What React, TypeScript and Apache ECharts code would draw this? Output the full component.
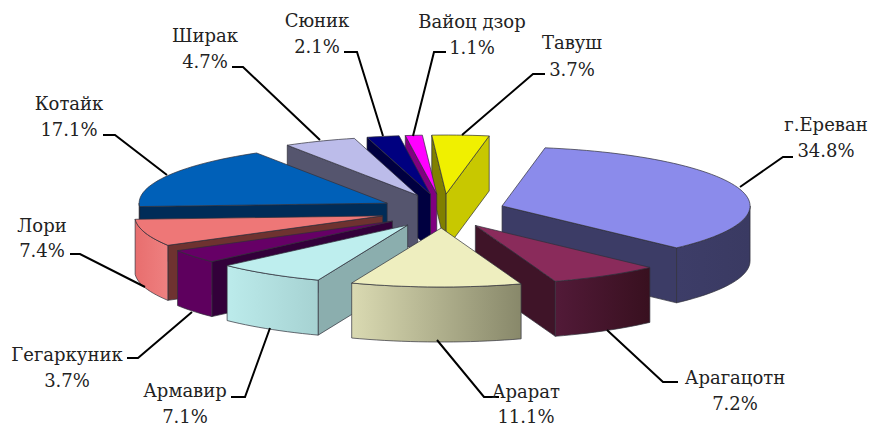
import React, { useEffect, useRef } from "react";
import * as echarts from "echarts";

const regions = ["г.Ереван", "Арагацотн", "Арарат", "Армавир", "Гегаркуник", "Лори", "Котайк", "Ширак", "Сюник", "Вайоц дзор", "Тавуш"];
const shares = [34.8, 7.2, 11.1, 7.1, 3.7, 7.4, 17.1, 4.7, 2.1, 1.1, 3.7];

const topColors = ["#8B8BEB", "#8A2B5B", "#EEEEBF", "#BEEEEE", "#660066", "#EE7777", "#0060B8", "#BCBCEA", "#000080", "#FF00FF", "#F0F000"];
const wallColors = [
  ["#3D3D68", "#3A3A62"], ["#521A38", "#38101F"], ["#DADAB2", "#88886A"], ["#BCEBEB", "#A6D2D2"],
  ["#5E005E", "#5E005E"], ["#E86E6E", "#EE8080"], ["#002C58", "#002C58"], ["#55556E", "#55556E"],
  ["#000040", "#000040"], ["#800080", "#800080"], ["#808000", "#808000"],
];
const startFaceColors = ["#3C3C66", "#3F1428", "#BBBB98", "#8BAEAE", "#33003A", "#6E3230", "#002C58", "#55556E", "#000040", "#800080", "#808000"];
const endFaceColors = ["#3C3C66", "#3F1428", "#BBBB98", "#8BAEAE", "#33003A", "#6E3230", "#002C58", "#55556E", "#000040", "#800080", "#C8C800"];

const labelPos = [[826, 124, 150], [735, 377, 403], [526, 391, 416], [185, 390, 416], [67, 354, 380], [42, 225, 250], [69, 103, 129], [205, 35, 61], [317, 20, 46], [472, 21, 47], [572, 42, 69]];
const leaders = [
  [[740, 187], [783, 157], [793, 157]],
  [[607, 330], [663, 382], [678, 382]],
  [[437, 340], [484, 397], [499, 397]],
  [[270, 328], [245, 397], [231, 397]],
  [[192, 312], [138, 358], [127, 358]],
  [[145, 287], [80, 254], [70, 254]],
  [[167, 175], [115, 135], [103, 135]],
  [[320, 140], [243, 67], [232, 67]],
  [[383, 136], [357, 52], [344, 52]],
  [[413, 136], [434, 52], [446, 52]],
  [[462, 135], [533, 74], [545, 74]],
];

const START_DEG = 10;
const CX = 442.5, CY = 211, RX = 248, RY = 59, EX = 62.4, EY = 17, DEPTH = 55;
const EDGE = "#2f2f3a";

const total = shares.reduce((s, v) => s + v, 0);
const rad = (d: number) => (d * Math.PI) / 180;
const spans = shares.reduce<[number, number][]>((acc, v) => {
  const from = acc.length ? acc[acc.length - 1][1] : START_DEG;
  acc.push([from, from + (v / total) * 360]);
  return acc;
}, []);
const paintOrder = shares
  .map((_, i) => i)
  .sort((p, q) => {
    const c = (i: number) => Math.cos(rad((spans[i][0] + spans[i][1]) / 2));
    return c(q) - c(p);
  });

function renderSlice(params: any, api: any) {
  const i = api.value(1);
  const [a0, a1] = spans[i];
  const mid = rad((a0 + a1) / 2);
  const ax = CX + EX * Math.sin(mid);
  const ay = CY - EY * Math.cos(mid);
  const pt = (deg: number, dz = 0) => [ax + RX * Math.sin(rad(deg)), ay - RY * Math.cos(rad(deg)) + dz];
  const arc = (from: number, to: number, dz = 0) => {
    const n = Math.max(2, Math.ceil(Math.abs(to - from) / 2));
    const out: number[][] = [];
    for (let k = 0; k <= n; k++) out.push(pt(from + ((to - from) * k) / n, dz));
    return out;
  };
  const poly = (points: number[][], fill: any) => ({
    type: "polygon",
    shape: { points },
    style: { fill, stroke: EDGE, lineWidth: 0.7 },
    silent: true,
  });
  const norm = (d: number) => ((d % 360) + 360) % 360;
  const children: any[] = [];
  const n0 = norm(a0), n1 = norm(a1);
  if (n0 > 180) children.push(poly([[ax, ay], pt(a0), pt(a0, DEPTH), [ax, ay + DEPTH]], startFaceColors[i]));
  if (n1 < 180) children.push(poly([[ax, ay], pt(a1), pt(a1, DEPTH), [ax, ay + DEPTH]], endFaceColors[i]));
  const w0 = Math.max(a0, 90), w1 = Math.min(a1, 270);
  if (w1 > w0) {
    const wall = [...arc(w0, w1), ...arc(w1, w0, DEPTH)];
    const [c0, c1] = wallColors[i];
    children.push(
      poly(wall, new echarts.graphic.LinearGradient(0, 0, 1, 0, [
        { offset: 0, color: c0 },
        { offset: 1, color: c1 },
      ]))
    );
  }
  children.push(poly([[ax, ay], ...arc(a0, a1)], topColors[i]));
  return { type: "group", children };
}

const textStyle = (text: string) => ({
  text,
  font: '18px "DejaVu Serif", serif',
  fill: "#222",
  align: "center",
  verticalAlign: "middle",
});

export default function App() {
  const ref = useRef<HTMLDivElement>(null);
  useEffect(() => {
    document.body.style.margin = "0";
    const chart = echarts.init(ref.current!, undefined, { renderer: "svg" });
    chart.setOption({
      animation: false,
      backgroundColor: "#ffffff",
      series: [
        {
          type: "custom",
          coordinateSystem: "none",
          silent: true,
          renderItem: renderSlice,
          data: paintOrder.map((i) => ({ name: regions[i], value: [shares[i], i] })),
        },
      ],
      graphic: [
        ...leaders.map((points) => ({
          type: "polyline",
          shape: { points },
          style: { stroke: "#000", lineWidth: 2, fill: "none" },
          silent: true,
          z: 10,
        })),
        ...regions.flatMap((name, i) => [
          { type: "text", x: labelPos[i][0], y: labelPos[i][1], silent: true, z: 11, style: textStyle(name) },
          { type: "text", x: labelPos[i][0], y: labelPos[i][2], silent: true, z: 11, style: textStyle(`${shares[i].toFixed(1)}%`) },
        ]),
      ],
    });
    return () => chart.dispose();
  }, []);
  return <div ref={ref} style={{ width: 869, height: 425, overflow: "hidden" }} />;
}
